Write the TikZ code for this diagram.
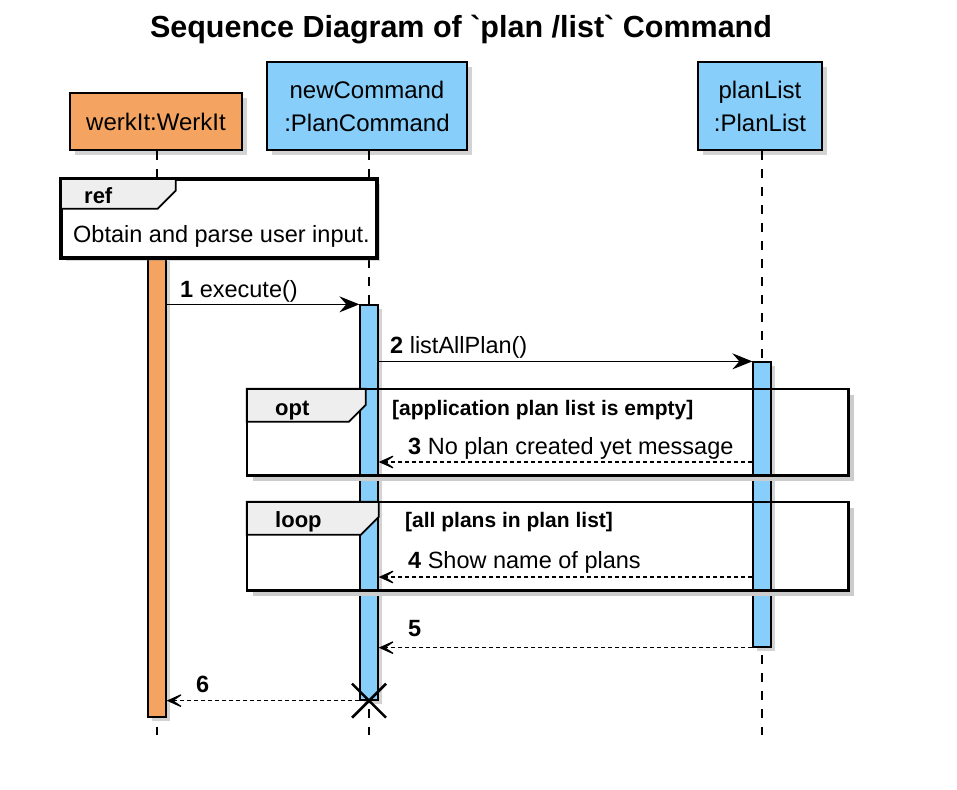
\documentclass[tikz,border=0pt]{standalone}
\usepackage{fontspec}
\setmainfont{Liberation Sans}
\usepackage{tikz}
\usetikzlibrary{ 
  	positioning,
  	arrows.meta,
  	shadows,
  	calc
  }
\definecolor{werkorange}{HTML}{F4A460}
\definecolor{cmdblue}{HTML}{87CEFA}
\definecolor{tabgray}{HTML}{EEEEEE}
\tikzstyle{partbox}=[draw,line width=1.6pt,align=center,inner sep=0pt,font=\fontsize{24}{33}\selectfont,drop shadow={shadow xshift=5pt,shadow yshift=-5pt,opacity=.35}]
\tikzstyle{actbar}=[draw,line width=1.3pt,minimum width=18pt,inner sep=0pt,drop shadow={shadow xshift=4pt,shadow yshift=-4pt,opacity=.35}]
\tikzstyle{lifeline}=[line width=1.3pt,dash pattern=on 9pt off 9pt]
\tikzstyle{framebox}=[draw,line width=2.6pt,inner sep=0pt]
\tikzstyle{frameshadow}=[line width=4pt,black!20]
\tikzstyle{tab}=[draw,fill=tabgray,line width=1.8pt]
\tikzstyle{msg}=[line width=1.2pt,-{Stealth[length=20pt,width=16pt,inset=7pt]}]
\tikzstyle{reply}=[line width=1.2pt,dash pattern=on 4pt off 3pt,-{Stealth[length=20pt,width=18pt,inset=13pt]}]
\tikzstyle{msglabel}=[anchor=base west,inner sep=0pt,font=\fontsize{23.5}{28}\selectfont]
\tikzstyle{guard}=[anchor=base west,inner sep=0pt,font=\bfseries\fontsize{21}{25}\selectfont]
\tikzstyle{tablabel}=[anchor=base west,inner sep=0pt,font=\bfseries\fontsize{22}{26}\selectfont]
\tikzstyle{destroy}=[line width=2.6pt]

\begin{document}
\begin{tikzpicture}[x=1pt,y=-1pt]
	\useasboundingbox (0,0) rectangle (957,789);
	\node[font=\bfseries\fontsize{30.5}{36}\selectfont] (title) at (461,30)
		{Sequence Diagram of \textasciigrave plan /list\textasciigrave{} Command};
%
	\node[partbox,fill=werkorange,minimum width=172pt,minimum height=57pt] (werkit) at (156,121.5) {werkIt:WerkIt};
	\node[partbox,fill=cmdblue,minimum width=200pt,minimum height=88pt] (newcmd) at (367,106) {newCommand\\:PlanCommand};
	\node[partbox,fill=cmdblue,minimum width=124pt,minimum height=88pt] (planlist) at (760,106) {planList\\:PlanList};
%
	\coordinate (werkit end) at (157,735);
	\coordinate (newcmd end) at (369,735);
	\coordinate (planlist end) at (762,735);
	\draw[lifeline] (werkit.south -| werkit end) -- (werkit end);
	\draw[lifeline] (newcmd.south -| newcmd end) -- (newcmd end);
	\draw[lifeline] (planlist.south -| planlist end) -- (planlist end);
%
	\node[actbar,fill=werkorange,minimum height=460pt] (werkit act) at (157,487) {};
	\node[actbar,fill=cmdblue,minimum height=395pt] (newcmd act) at (369,502.5) {};
	\node[actbar,fill=cmdblue,minimum height=285pt] (planlist act) at (762,504.5) {};
%
	% ref frame
	\node[framebox,fill=white,minimum width=314pt,minimum height=77pt,drop shadow={shadow xshift=4pt,shadow yshift=-4pt,opacity=.3}] (ref) at (219,218.5) {};
	\draw[tab] (ref.north west) -- ++(115,0) -- ++(0,12) -- ++(-18,18) -- ++(-97,0) -- cycle;
	\draw[framebox] (ref.north west) rectangle (ref.south east);
	\node[tablabel] (ref label) at (84,203) {ref};
	\node[msglabel] (ref text) at (73,242) {Obtain and parse user input.};
%
	% opt frame
	\node[minimum width=601pt,minimum height=86pt,inner sep=0pt] (opt) at (547.5,432) {};
	\draw[frameshadow] ([shift={(4,6)}]opt.north east) -- ([shift={(4,4)}]opt.south east) -- ([shift={(6,4)}]opt.south west);
	\draw[tab] (opt.north west) -- ++(119,0) -- ++(0,16) -- ++(-17,17) -- ++(-102,0) -- cycle;
	\draw[framebox] (opt.north west) rectangle (opt.south east);
	\node[tablabel] (opt label) at (275,415) {opt};
	\node[guard] (opt guard) at (392,415) {[application plan list is empty]};
%
	% loop frame
	\node[minimum width=601pt,minimum height=88pt,inner sep=0pt] (loop) at (547.5,546) {};
	\draw[frameshadow] ([shift={(4,6)}]loop.north east) -- ([shift={(4,4)}]loop.south east) -- ([shift={(6,4)}]loop.south west);
	\draw[tab] (loop.north west) -- ++(132,0) -- ++(0,15) -- ++(-18,18) -- ++(-114,0) -- cycle;
	\draw[framebox] (loop.north west) rectangle (loop.south east);
	\node[tablabel] (loop label) at (275,527) {loop};
	\node[guard] (loop guard) at (405,527) {[all plans in plan list]};
%
	% messages
	\coordinate (m3) at (0,462);
	\coordinate (m4) at (0,577);
	\draw[msg] (werkit act.east |- newcmd act.north) -- (newcmd act.north west);
	\draw[msg] (newcmd act.east |- planlist act.north) -- (planlist act.north west);
	\draw[reply] (planlist act.west |- m3) -- (newcmd act.east |- m3);
	\draw[reply] (planlist act.west |- m4) -- (newcmd act.east |- m4);
	\draw[reply] (planlist act.south west) -- (newcmd act.east |- planlist act.south);
	\draw[reply] (newcmd act.south west) -- (werkit act.east |- newcmd act.south);
	\node[msglabel] (m1 label) at (180,297) {\textbf{1} execute()};
	\node[msglabel] (m2 label) at (390,353) {\textbf{2} listAllPlan()};
	\node[msglabel] (m3 label) at (408,454) {\textbf{3} No plan created yet message};
	\node[msglabel] (m4 label) at (408,568) {\textbf{4} Show name of plans};
	\node[msglabel] (m5 label) at (408,636) {\textbf{5}};
	\node[msglabel] (m6 label) at (196,692) {\textbf{6}};
%
	\draw[destroy] ($(newcmd act.south)+(-17,-17)$) -- ($(newcmd act.south)+(17,17)$);
	\draw[destroy] ($(newcmd act.south)+(-17,17)$) -- ($(newcmd act.south)+(17,-17)$);
\end{tikzpicture}
\end{document}
